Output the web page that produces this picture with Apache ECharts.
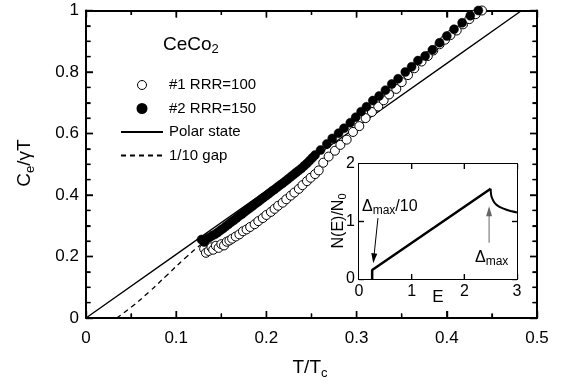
<!DOCTYPE html>
<html><head><meta charset="utf-8">
<script src="https://cdn.jsdelivr.net/npm/echarts@6/dist/echarts.min.js"></script>
<style>html,body{margin:0;padding:0;background:#fff}#c{width:567px;height:386px}</style>
</head><body><div id="c"></div>
<script>
// T/Tc, Ce/gammaT  — sample #1 RRR=100 (open circles)
const sample1 = [
[0.131,0.225],[0.133,0.212],[0.136,0.218],[0.139,0.230],[0.141,0.222],[0.144,0.235],[0.147,0.228],[0.150,0.240],
[0.153,0.236],[0.156,0.248],[0.159,0.252],[0.162,0.258],[0.166,0.265],[0.170,0.272],[0.174,0.282],[0.178,0.288],
[0.182,0.296],[0.187,0.305],[0.191,0.315],[0.196,0.325],[0.200,0.335],[0.205,0.345],[0.209,0.355],[0.213,0.365],
[0.218,0.375],[0.222,0.386],[0.227,0.398],[0.231,0.408],[0.236,0.420],[0.240,0.432],[0.245,0.445],[0.249,0.456],
[0.254,0.468],[0.258,0.480],[0.263,0.505],[0.269,0.525],[0.276,0.544],[0.282,0.563],[0.289,0.580],[0.296,0.605],
[0.303,0.624],[0.310,0.650],[0.317,0.670],[0.324,0.688],[0.330,0.708],[0.336,0.727],[0.344,0.745],[0.350,0.767],
[0.357,0.790],[0.364,0.812],[0.372,0.834],[0.379,0.852],[0.385,0.870],[0.392,0.890],[0.398,0.905],[0.404,0.920],
[0.411,0.935],[0.418,0.955],[0.425,0.972],[0.432,0.988],[0.439,1.000]
];
// sample #2 RRR=150 (filled circles)
const sample2 = [
[0.128,0.255],[0.131,0.247],[0.134,0.258],[0.137,0.262],[0.140,0.268],[0.143,0.272],[0.146,0.278],[0.149,0.285],
[0.152,0.291],[0.155,0.298],[0.158,0.305],[0.161,0.312],[0.164,0.318],[0.167,0.325],[0.170,0.332],[0.173,0.338],
[0.176,0.345],[0.179,0.352],[0.182,0.358],[0.185,0.365],[0.188,0.372],[0.191,0.378],[0.194,0.385],[0.197,0.392],
[0.200,0.398],[0.203,0.405],[0.206,0.412],[0.209,0.418],[0.212,0.425],[0.215,0.432],[0.218,0.438],[0.221,0.445],
[0.224,0.452],[0.227,0.459],[0.230,0.466],[0.233,0.473],[0.236,0.480],[0.239,0.487],[0.242,0.495],[0.245,0.503],
[0.248,0.512],[0.251,0.521],[0.254,0.530],[0.260,0.546],[0.267,0.566],[0.273,0.584],[0.280,0.601],[0.286,0.617],[0.293,0.635],
[0.299,0.653],[0.305,0.671],[0.311,0.687],[0.318,0.707],[0.325,0.722],[0.332,0.741],[0.339,0.761],[0.346,0.778],
[0.354,0.800],[0.361,0.817],[0.368,0.837],[0.376,0.852],[0.384,0.872],[0.392,0.895],[0.400,0.917],[0.408,0.939],
[0.417,0.960],[0.426,0.983],[0.435,1.000]
];
// Polar state curve
const polar = [[0,0],[0.1,0.207],[0.2,0.414],[0.3,0.621],[0.4,0.828],[0.483,1.0]];
// 1/10 gap curve
const gap10 = [[0.034,0],[0.05,0.035],[0.07,0.085],[0.09,0.14],[0.11,0.195],[0.13,0.245],[0.15,0.29],[0.2,0.41],[0.25,0.515],[0.28,0.578]];
// inset: N(E)/N0 vs E
const dosLinear = [[0.25,0],[0.25,0.157],[2.5,1.57]];
const dosTail = [[2.5,1.57],[2.51,1.46],[2.53,1.40],[2.56,1.345],[2.6,1.30],[2.65,1.265],[2.7,1.24],[2.8,1.205],[2.9,1.178],[3.0,1.158]];
// annotation arrows (inset coordinates): [start, end]
const arrowGap = [[0.36,1.06],[0.28,0.36]];
const arrowMax = [[2.47,0.63],[2.47,1.18]];
// tick labels and tick positions
const xTicks = ['0','0.1','0.2','0.3','0.4','0.5'];
const yTicks = ['0','0.2','0.4','0.6','0.8','1'];
const xMajorTicks = [0.1,0.2,0.3,0.4];
const xMinorTicks = [0.05,0.15,0.25,0.35,0.45];
const yMajorTicks = [0.2,0.4,0.6,0.8];
const yMinorTicks = [0.05,0.1,0.15,0.25,0.3,0.35,0.45,0.5,0.55,0.65,0.7,0.75,0.85,0.9,0.95];
const insetXTicks = [1,2];
const insetYTicks = [1];

const FONT = 'Liberation Sans';
const chart = echarts.init(document.getElementById('c'), null, {renderer:'canvas'});
function fmt(arr, min, step){ return v => { const i = Math.round((v-min)/step); return arr[i] !== undefined ? arr[i] : ''; }; }
function mkAxis(o, tickLen, minorSplit){
  const a = {
    type:'value',
    axisLine:{show:true,onZero:false,lineStyle:{color:'#000',width:2}},
    axisTick:{show:true,inside:true,length:tickLen,lineStyle:{color:'#000',width:1.4}},
    minorTick:minorSplit ? {show:true,splitNumber:minorSplit,length:4.5,lineStyle:{color:'#000',width:1.2}} : {show:false},
    splitLine:{show:false}
  };
  return Object.assign(a, o);
}
const lbl = (size, margin, f) => {
  const l = {show:true,color:'#000',fontFamily:FONT,fontSize:size,margin:margin};
  if (f) l.formatter = f;
  return l;
};
// tick-mark series: inward ticks on both opposite sides of a grid, placed through the axes' own scales
function tickSeries(vals, dir, len, xi, yi, ext){
  return {
    type:'custom', xAxisIndex:xi, yAxisIndex:yi, clip:false, silent:true, z:8,
    data: vals.map(v => dir==='x' ? [v, ext[0]] : [ext[0], v]),
    renderItem: function(params, api){
      const st = {stroke:'#000', lineWidth:1.4};
      if (dir==='x'){
        const v = api.value(0);
        const b = api.coord([v, ext[0]]), t = api.coord([v, ext[1]]);
        return {type:'group', children:[
          {type:'line', shape:{x1:b[0],y1:b[1],x2:b[0],y2:b[1]-len}, style:st},
          {type:'line', shape:{x1:t[0],y1:t[1],x2:t[0],y2:t[1]+len}, style:st}]};
      } else {
        const v = api.value(1);
        const l = api.coord([ext[0], v]), r = api.coord([ext[1], v]);
        return {type:'group', children:[
          {type:'line', shape:{x1:l[0],y1:l[1],x2:l[0]+len,y2:l[1]}, style:st},
          {type:'line', shape:{x1:r[0],y1:r[1],x2:r[0]-len,y2:r[1]}, style:st}]};
      }
    }
  };
}
function arrowSeries(pts, color, rot){
  return {
    type:'line', xAxisIndex:2, yAxisIndex:2, z:7, silent:true,
    lineStyle:{color:color,width:1}, itemStyle:{color:color},
    data:[
      {value:pts[0], symbol:'none'},
      {value:pts[1], symbol:'triangle', symbolSize:[6,10], symbolRotate:rot}
    ]
  };
}
chart.setOption({
  animation:false,
  backgroundColor:'#fff',
  grid:[
    {left:86,top:10.5,width:451,height:307.5},
    {left:359,top:164,width:158,height:115,show:true,backgroundColor:'#fff',borderWidth:0,z:1}
  ],
  xAxis:[
    mkAxis({gridIndex:0,min:0,max:0.5,interval:0.1,position:'bottom',axisLabel:lbl(17,12,fmt(xTicks,0,0.1))},7,2),
    mkAxis({gridIndex:0,min:0,max:0.5,interval:0.1,position:'top',axisLabel:{show:false}},7,2),
    mkAxis({gridIndex:1,min:0,max:3,interval:1,position:'bottom',axisLabel:lbl(16,5)},5,0),
    mkAxis({gridIndex:1,min:0,max:3,interval:1,position:'top',axisLabel:{show:false}},5,0)
  ],
  yAxis:[
    mkAxis({gridIndex:0,min:0,max:1,interval:0.2,position:'left',axisLabel:lbl(17,7,fmt(yTicks,0,0.2))},7,4),
    mkAxis({gridIndex:0,min:0,max:1,interval:0.2,position:'right',axisLabel:{show:false}},7,4),
    mkAxis({gridIndex:1,min:0,max:2,interval:1,position:'left',axisLabel:lbl(16,4)},5,0),
    mkAxis({gridIndex:1,min:0,max:2,interval:1,position:'right',axisLabel:{show:false}},5,0)
  ],
  legend:{
    orient:'vertical',left:120,top:76,padding:0,itemWidth:42,itemHeight:9,itemGap:5.5,
    textStyle:{color:'#000',fontFamily:FONT,fontSize:15,lineHeight:18,padding:[0,0,0,1]},
    data:[
      {name:'#1 RRR=100',icon:'circle',itemStyle:{color:'#fff',borderColor:'#000',borderWidth:1,opacity:1}},
      {name:'#2 RRR=150',icon:'circle',itemStyle:{color:'#000',opacity:1}},
      {name:'Polar state',itemStyle:{opacity:0}},
      {name:'1/10 gap',itemStyle:{opacity:0}}
    ]
  },
  series:[
    {name:'Polar state',type:'line',xAxisIndex:0,yAxisIndex:0,data:polar,symbol:'none',showSymbol:false,
      lineStyle:{color:'#000',width:1.3},itemStyle:{color:'#000'},z:2},
    {name:'1/10 gap',type:'line',xAxisIndex:0,yAxisIndex:0,data:gap10,symbol:'none',showSymbol:false,smooth:true,
      lineStyle:{color:'#000',width:1.3,type:[5,4]},itemStyle:{color:'#000'},z:2},
    {name:'#1 RRR=100',type:'scatter',xAxisIndex:0,yAxisIndex:0,data:sample1,symbol:'circle',symbolSize:9,
      itemStyle:{color:'#fff',borderColor:'#000',borderWidth:1,opacity:1},z:3},
    {name:'#2 RRR=150',type:'scatter',xAxisIndex:0,yAxisIndex:0,data:sample2,symbol:'circle',symbolSize:9,
      itemStyle:{color:'#000',borderColor:'#000',borderWidth:0.5,opacity:1},z:4},
    {name:'dosLinear',type:'line',xAxisIndex:2,yAxisIndex:2,data:dosLinear,symbol:'none',
      lineStyle:{color:'#000',width:2.5},z:7},
    {name:'dosTail',type:'line',xAxisIndex:2,yAxisIndex:2,data:dosTail,symbol:'none',smooth:true,
      lineStyle:{color:'#000',width:2},z:7},
    arrowSeries(arrowGap,'#000',174),
    arrowSeries(arrowMax,'#666',0),
    tickSeries(xMajorTicks,'x',7,0,0,[0,1]),
    tickSeries(xMinorTicks,'x',4.5,0,0,[0,1]),
    tickSeries(yMajorTicks,'y',7,0,0,[0,0.5]),
    tickSeries(yMinorTicks,'y',4.5,0,0,[0,0.5]),
    tickSeries(insetXTicks,'x',5,2,2,[0,2]),
    tickSeries(insetYTicks,'y',5,2,2,[0,3])
  ],
  graphic:[
    {type:'text',left:163,top:35,z:10,style:{text:'{a|CeCo}{s|2}',rich:{
      a:{fontFamily:FONT,fontSize:19,fill:'#000'},s:{fontFamily:FONT,fontSize:13,fill:'#000',padding:[10,0,0,0]}}}},
    {type:'text',x:25,y:163,rotation:Math.PI/2,z:10,style:{text:'{a|C}{s|e}{a|/γT}',align:'center',verticalAlign:'middle',rich:{
      a:{fontFamily:FONT,fontSize:19,fill:'#000'},s:{fontFamily:FONT,fontSize:13,fill:'#000',padding:[10,0,0,0]}}}},
    {type:'text',x:310,y:368,z:10,style:{text:'{a|T/T}{s|c}',align:'center',verticalAlign:'middle',rich:{
      a:{fontFamily:FONT,fontSize:19,fill:'#000'},s:{fontFamily:FONT,fontSize:13,fill:'#000',padding:[10,0,0,0]}}}},
    {type:'text',x:339,y:221,rotation:Math.PI/2,z:10,style:{text:'{a|N(E)/N}{s|0}',align:'center',verticalAlign:'middle',rich:{
      a:{fontFamily:FONT,fontSize:16,fill:'#000'},s:{fontFamily:FONT,fontSize:11,fill:'#000',padding:[8,0,0,0]}}}},
    {type:'text',x:438,y:297,z:10,style:{text:'E',align:'center',verticalAlign:'middle',fontFamily:FONT,fontSize:17,fill:'#000'}},
    {type:'text',left:362,top:199,z:10,style:{text:'{a|Δ}{s|max}{a|/10}',rich:{
      a:{fontFamily:FONT,fontSize:16,fill:'#000'},s:{fontFamily:FONT,fontSize:12,fill:'#000',padding:[8,0,0,0]}}}},
    {type:'text',left:475,top:250,z:10,style:{text:'{a|Δ}{s|max}',rich:{
      a:{fontFamily:FONT,fontSize:16,fill:'#000'},s:{fontFamily:FONT,fontSize:12,fill:'#000',padding:[8,0,0,0]}}}}
  ]
});
</script></body></html>
